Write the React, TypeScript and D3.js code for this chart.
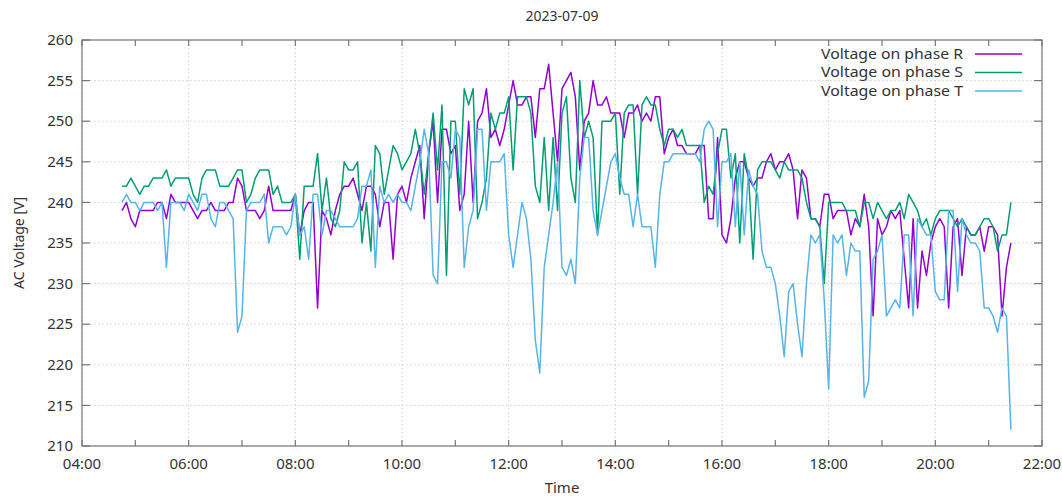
import React from 'react';
import * as d3 from 'd3';

const START = '2023-07-09T04:45:00';
const STEP_MIN = 5;
const X_DOMAIN = ['2023-07-09T04:00:00', '2023-07-09T22:00:00'];
const Y_DOMAIN = [210, 260];
const yTicks = [210, 215, 220, 225, 230, 235, 240, 245, 250, 255, 260];
const title = '2023-07-09';
const xTitle = 'Time';
const yTitle = 'AC Voltage [V]';
const seriesNames = ['Voltage on phase R', 'Voltage on phase S', 'Voltage on phase T'];
const colors = ['#9400d3', '#009e73', '#56b4e9'];

const phaseR = [
  239,240,238,237,239,239,239,239,240,240,
  238,241,240,240,240,240,239,238,239,239,
  240,239,239,239,240,240,243,242,239,239,
  239,238,239,242,239,239,239,239,239,241,
  236,239,240,240,227,239,238,236,239,241,
  242,242,243,241,239,242,242,241,237,240,
  240,233,241,242,240,243,245,247,238,246,
  250,240,249,249,246,247,239,241,250,240,
  250,251,254,248,249,247,249,252,255,252,
  252,253,253,248,254,254,257,251,245,254,
  255,256,253,244,250,251,255,252,252,253,
  251,251,251,248,251,251,252,250,251,250,
  253,253,246,248,249,247,247,246,246,246,
  247,247,238,238,248,236,235,238,243,245,
  245,243,242,243,243,245,246,244,245,245,
  246,244,238,244,243,238,238,237,241,241,
  238,239,239,239,236,238,237,241,237,226,
  238,236,237,239,238,239,233,227,238,227,
  234,231,235,237,238,237,227,237,238,231,
  237,236,236,237,234,237,237,236,226,232,
  235,
];

const phaseS = [
  242,242,243,242,241,242,242,243,243,243,
  244,242,243,243,243,243,241,240,243,244,
  244,244,242,242,242,243,244,244,240,241,
  243,244,244,244,241,242,240,240,240,241,
  233,242,242,242,246,239,243,238,237,239,
  245,244,244,245,235,240,234,247,246,241,
  244,247,246,244,245,246,249,246,241,246,
  251,244,252,231,250,250,241,254,252,254,
  238,240,243,251,249,251,251,253,244,253,
  253,253,251,242,240,248,239,248,239,251,
  253,243,240,255,248,250,248,236,250,250,
  250,251,241,251,252,252,241,252,253,252,
  252,249,247,249,249,248,249,247,247,247,
  247,240,242,241,246,249,249,243,246,235,
  246,243,233,244,245,245,245,244,243,245,
  244,244,244,243,240,238,238,237,230,240,
  240,240,240,239,239,239,237,240,240,238,
  240,239,238,239,239,240,238,241,240,239,
  237,238,236,238,239,239,239,238,237,238,
  237,236,236,237,238,238,237,234,236,236,
  240,
];

const phaseT = [
  240,241,240,240,239,240,240,240,239,240,
  232,240,240,240,239,241,240,239,241,241,
  238,237,240,240,239,238,224,226,239,240,
  240,240,241,235,237,237,237,236,237,241,
  236,237,233,241,241,236,239,239,238,237,
  237,237,237,238,242,242,244,232,242,240,
  241,240,241,240,240,239,242,245,249,246,
  231,230,245,245,243,249,248,232,237,239,
  249,249,239,245,245,245,246,236,232,236,
  240,238,233,223,219,232,236,240,245,232,
  231,233,230,243,248,248,239,236,239,242,
  245,246,243,241,241,237,241,237,237,237,
  232,241,245,245,246,246,246,246,246,246,
  245,249,250,249,237,245,245,246,237,245,
  236,244,242,241,234,232,232,230,226,221,
  229,230,225,221,230,236,235,236,228,217,
  236,235,236,231,235,234,234,216,218,233,
  234,236,226,227,228,227,236,236,226,238,
  237,236,236,229,228,228,239,239,229,238,
  236,235,235,234,227,227,226,224,227,226,
  212,
];

const allSeries = [phaseR, phaseS, phaseT];

export default function App() {
  const W = 1062;
  const H = 497;
  const left = 82, right = 1042, top = 40, bottom = 446;
  const parse = d3.timeParse('%Y-%m-%dT%H:%M:%S');
  const t0 = parse(START) as Date;
  const x = d3.scaleTime()
    .domain([parse(X_DOMAIN[0]) as Date, parse(X_DOMAIN[1]) as Date])
    .range([left, right]);
  const y = d3.scaleLinear().domain(Y_DOMAIN).range([bottom, top]);
  const times = phaseR.map((_, i) => d3.timeMinute.offset(t0, i * STEP_MIN));
  const line = d3.line<number>()
    .x((_, i) => x(times[i]))
    .y((d) => y(d));
  const majorX = x.ticks(d3.timeHour.every(2) as any);
  const minorX = x.ticks(d3.timeHour.every(1) as any);
  const fmt = d3.timeFormat('%H:%M');
  const font = '"Noto Sans", "Open Sans", sans-serif';
  const textColor = '#333';
  const axisColor = '#777';
  const gridColor = '#cfcfcf';
  const legendRowY = [54, 72.5, 91];

  return (
    <svg width={W} height={H} style={{ position: 'absolute', left: 0, top: 0, background: '#fff' }} fontFamily={font}>
      <rect x={0} y={0} width={W} height={H} fill="#fff" />
      {yTicks.map((v) => (
        <line key={'gy' + v} x1={left} x2={right} y1={y(v)} y2={y(v)} stroke={gridColor} strokeWidth={1} strokeDasharray="1.5,2.5" />
      ))}
      {majorX.map((t, i) => (
        <line key={'gx' + i} x1={x(t)} x2={x(t)} y1={top} y2={bottom} stroke={gridColor} strokeWidth={1} strokeDasharray="1.5,2.5" />
      ))}
      {allSeries.map((s, k) => (
        <path key={'s' + k} d={line(s) || ''} fill="none" stroke={colors[k]} strokeWidth={1.5} strokeLinejoin="round" />
      ))}
      <rect x={left} y={top} width={right - left} height={bottom - top} fill="none" stroke={axisColor} strokeWidth={1.2} />
      {yTicks.map((v) => (
        <g key={'yt' + v}>
          <line x1={left} x2={left + 8} y1={y(v)} y2={y(v)} stroke={axisColor} strokeWidth={1.2} />
          <line x1={right} x2={right - 8} y1={y(v)} y2={y(v)} stroke={axisColor} strokeWidth={1.2} />
          <text x={73} y={y(v)} dy="0.35em" textAnchor="end" fontSize={15} fill={textColor}>{v}</text>
        </g>
      ))}
      {minorX.map((t, i) => (
        <g key={'xt' + i}>
          <line x1={x(t)} x2={x(t)} y1={bottom} y2={bottom - 6} stroke={axisColor} strokeWidth={1.2} />
          <line x1={x(t)} x2={x(t)} y1={top} y2={top + 6} stroke={axisColor} strokeWidth={1.2} />
        </g>
      ))}
      {majorX.map((t, i) => (
        <text key={'xl' + i} x={x(t)} y={469} textAnchor="middle" fontSize={15} fill={textColor}>{fmt(t)}</text>
      ))}
      <text x={562} y={21} textAnchor="middle" fontSize={14} fill={textColor}>{title}</text>
      <text x={562} y={493} textAnchor="middle" fontSize={15} fill={textColor}>{xTitle}</text>
      <text transform={`translate(24,243) rotate(-90)`} textAnchor="middle" fontSize={14} fill={textColor}>{yTitle}</text>
      {seriesNames.map((n, k) => (
        <g key={'lg' + k}>
          <text x={963} y={legendRowY[k]} dy="0.35em" textAnchor="end" fontSize={13.5} textLength={142} lengthAdjust="spacingAndGlyphs" fill={textColor}>{n}</text>
          <line x1={975} x2={1022} y1={legendRowY[k]} y2={legendRowY[k]} stroke={colors[k]} strokeWidth={1.5} />
        </g>
      ))}
    </svg>
  );
}
